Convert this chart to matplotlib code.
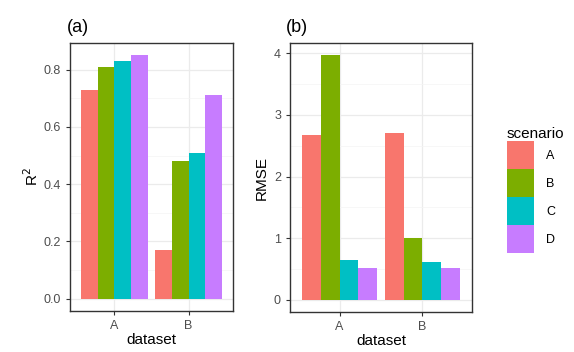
import numpy as np
import matplotlib.pyplot as plt
from matplotlib.patches import Patch
from matplotlib.ticker import MultipleLocator

plt.rcParams["font.family"] = ["Liberation Sans", "DejaVu Sans"]

datasets = ["A", "B"]
scenarios = ["A", "B", "C", "D"]
colors = ["#F8766D", "#7CAE00", "#00BFC4", "#C77CFF"]

r2 = {
    "A": [0.73, 0.17],
    "B": [0.81, 0.48],
    "C": [0.83, 0.51],
    "D": [0.85, 0.71],
}
rmse = {
    "A": [2.67, 2.70],
    "B": [3.97, 1.01],
    "C": [0.65, 0.62],
    "D": [0.51, 0.52],
}

fig = plt.figure(figsize=(5.74, 3.52), dpi=100)
W, H = 574, 352


def px_axes(x0, y0, x1, y1):
    return fig.add_axes([x0 / W, 1 - y1 / H, (x1 - x0) / W, (y1 - y0) / H])


def style(ax, major, minor, ymax):
    ax.set_facecolor("white")
    ax.set_xlim(0.4, 2.6)
    ax.set_ylim(-0.05 * ymax, ymax * 1.05)
    ax.yaxis.set_major_locator(MultipleLocator(major))
    ax.yaxis.set_minor_locator(MultipleLocator(minor))
    ax.set_xticks([1, 2], datasets)
    ax.grid(True, which="major", color="#EBEBEB", linewidth=0.9)
    ax.grid(True, which="minor", axis="y", color="#F4F4F4", linewidth=0.5)
    ax.set_axisbelow(True)
    for s in ax.spines.values():
        s.set_color("#333333")
        s.set_linewidth(1.0)
    ax.tick_params(which="major", length=3, color="#333333", labelsize=9,
                   labelcolor="#4D4D4D", width=0.8)
    ax.tick_params(which="minor", length=0)
    ax.set_xlabel("dataset", fontsize=11, labelpad=1)


def draw(ax, data):
    x = np.arange(1, len(datasets) + 1)
    w = 0.9 / len(scenarios)
    for i, (s, c) in enumerate(zip(scenarios, colors)):
        ax.bar(x - 0.45 + w * (i + 0.5), data[s], width=w, color=c, linewidth=0)


ax1 = px_axes(70, 43, 233, 311)
draw(ax1, r2)
style(ax1, 0.2, 0.1, 0.85)
ax1.set_ylabel("R$^2$", fontsize=11, labelpad=2)
ax1.set_ylim(-0.0425, 0.8925)
ax1.set_title("(a)", loc="left", x=-0.02, fontsize=13, pad=8)

ax2 = px_axes(290, 43, 472, 312)
draw(ax2, rmse)
style(ax2, 1, 0.5, 3.97)
ax2.set_ylabel("RMSE", fontsize=11, labelpad=4)
ax2.set_title("(b)", loc="left", x=-0.02, fontsize=13, pad=8)

handles = [Patch(facecolor=c, edgecolor="none") for c in colors]
leg = fig.legend(handles, scenarios, title="scenario", loc="upper left",
                 bbox_to_anchor=(502 / W, 1 - 122 / H), frameon=False,
                 fontsize=9, title_fontsize=11, handlelength=2.15,
                 handleheight=3.08, handletextpad=1.0, labelspacing=0.0,
                 borderaxespad=0)
leg._legend_box.align = "left"

fig.savefig("out.png", dpi=100)
